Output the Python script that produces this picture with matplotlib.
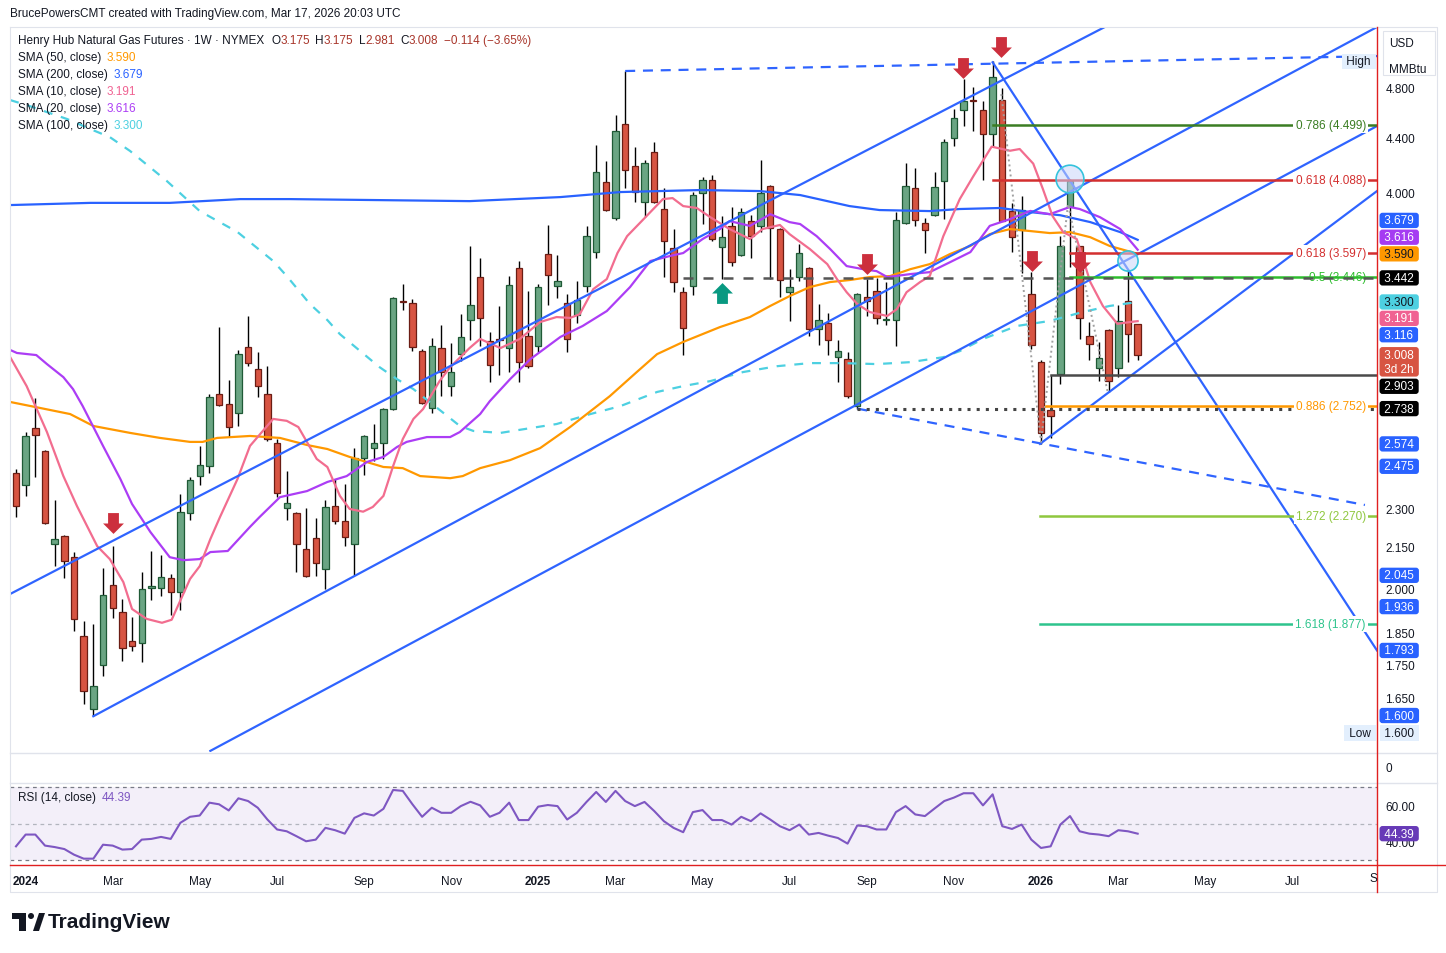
import numpy as np
import pandas as pd
import matplotlib
matplotlib.use("Agg")
import matplotlib.pyplot as plt
from matplotlib.path import Path
from matplotlib.patches import Rectangle, Circle, Polygon
from matplotlib.ticker import FixedLocator, FuncFormatter, NullLocator
from matplotlib.transforms import blended_transform_factory

plt.rcParams['font.family'] = ['Liberation Sans', 'DejaVu Sans']

# -----------------------------
# Data: weekly Henry Hub candles (bar 0 = week of 2023-12-25)
# -----------------------------
opens = [2.446, 2.395, 2.646, 2.542, 2.160, 2.190, 2.110, 1.839, 1.617, 1.749,
         2.011, 1.918, 1.822, 1.818, 2.000, 1.999, 2.035, 1.987, 2.282, 2.433,
         2.476, 2.810, 2.760, 2.717, 3.049, 2.933, 2.810, 2.578, 2.300, 2.282,
         2.143, 2.182, 2.066, 2.308, 2.248, 2.159, 2.510, 2.555, 2.578, 2.735,
         3.305, 3.295, 3.028, 2.740, 3.043, 2.848, 3.012, 3.197, 3.448, 3.083,
         3.090, 3.043, 3.500, 3.108, 3.055, 3.587, 3.393, 3.292, 3.226, 3.393,
         3.600, 4.068, 3.820, 4.510, 4.186, 3.930, 4.290, 3.883, 3.624, 3.360,
         3.396, 3.993, 4.083, 3.636, 3.770, 3.582, 3.800, 3.770, 4.040, 3.749,
         3.357, 3.447, 3.500, 3.147, 3.180, 2.998, 2.986, 2.750, 3.328, 3.363,
         3.195, 3.195, 3.790, 4.026, 3.790, 3.840, 4.080, 4.400, 4.620, 4.695,
         4.620, 4.430, 4.700, 3.870, 3.740, 3.345, 2.970, 2.732, 2.908, 3.894,
         3.637, 3.108, 2.940, 3.143, 2.940, 3.307, 3.175]
highs = [2.463, 2.628, 2.789, 2.546, 2.333, 2.193, 2.130, 1.888, 1.878, 2.070,
         2.152, 1.962, 1.901, 2.057, 2.133, 2.119, 2.050, 2.358, 2.427, 2.565,
         2.807, 3.158, 2.878, 3.034, 3.218, 3.023, 2.950, 2.596, 2.454, 2.286,
         2.300, 2.261, 2.333, 2.420, 2.400, 2.556, 2.615, 2.665, 2.740, 3.330,
         3.405, 3.317, 3.039, 3.096, 3.169, 3.071, 3.230, 3.640, 3.562, 3.131,
         3.277, 3.452, 3.545, 3.363, 3.405, 3.775, 3.582, 3.345, 3.423, 3.770,
         4.340, 4.223, 4.580, 4.944, 4.330, 4.230, 4.370, 4.026, 3.749, 3.387,
         4.000, 4.110, 4.120, 3.835, 3.897, 3.890, 3.840, 4.230, 4.050, 3.755,
         3.495, 3.653, 3.507, 3.288, 3.236, 3.088, 3.023, 3.355, 3.435, 3.441,
         3.417, 3.860, 4.210, 4.170, 3.820, 4.140, 4.390, 4.626, 4.875, 4.810,
         4.690, 5.030, 4.800, 3.925, 3.975, 3.480, 2.980, 2.905, 3.704, 4.092,
         3.637, 3.186, 3.077, 3.147, 3.282, 3.495, 3.175]
lows = [2.265, 2.350, 2.429, 2.237, 2.078, 2.035, 1.855, 1.633, 1.598, 1.716,
        1.898, 1.761, 1.792, 1.758, 1.959, 1.973, 1.908, 1.925, 2.254, 2.395,
        2.446, 2.750, 2.605, 2.656, 2.950, 2.794, 2.587, 2.345, 2.254, 2.057,
        2.040, 2.043, 1.997, 2.238, 2.153, 2.047, 2.437, 2.500, 2.507, 2.729,
        3.253, 3.030, 2.760, 2.717, 2.799, 2.799, 2.977, 3.088, 3.055, 2.867,
        2.905, 2.920, 2.870, 2.938, 3.023, 3.283, 3.321, 3.023, 3.180, 3.360,
        3.562, 3.870, 3.810, 4.026, 3.932, 3.830, 3.925, 3.449, 3.357, 3.008,
        3.340, 3.782, 3.673, 3.435, 3.514, 3.575, 3.563, 3.730, 3.435, 3.328,
        3.192, 3.425, 3.108, 3.060, 3.008, 2.867, 2.789, 2.738, 3.220, 3.176,
        3.170, 3.055, 3.780, 3.770, 3.595, 3.833, 3.815, 4.335, 4.490, 4.450,
        4.085, 4.330, 3.800, 3.600, 3.470, 3.040, 2.574, 2.600, 2.858, 3.506,
        3.093, 2.980, 2.873, 2.819, 2.893, 2.970, 2.981]
closes = [2.309, 2.610, 2.614, 2.241, 2.179, 2.097, 1.895, 1.670, 1.685, 1.976,
          1.931, 1.801, 1.806, 1.996, 2.004, 2.039, 1.987, 2.285, 2.416, 2.481,
          2.793, 2.757, 2.651, 3.012, 2.964, 2.848, 2.596, 2.362, 2.320, 2.159,
          2.043, 2.090, 2.306, 2.250, 2.186, 2.510, 2.610, 2.578, 2.735, 3.321,
          3.300, 3.050, 2.764, 3.055, 2.919, 2.919, 3.102, 3.285, 3.207, 2.954,
          3.085, 3.400, 2.970, 2.950, 3.387, 3.459, 3.424, 3.093, 3.311, 3.704,
          4.146, 3.876, 4.450, 4.157, 4.000, 4.210, 3.930, 3.670, 3.417, 3.153,
          3.980, 4.083, 3.684, 3.696, 3.537, 3.862, 3.703, 3.993, 3.755, 3.429,
          3.387, 3.595, 3.147, 3.197, 3.088, 3.028, 2.799, 3.345, 3.304, 3.207,
          3.205, 3.810, 4.040, 3.810, 3.740, 4.035, 4.370, 4.550, 4.690, 4.690,
          4.430, 4.890, 3.800, 3.696, 3.875, 3.060, 2.624, 2.703, 3.637, 4.077,
          3.210, 3.065, 2.990, 2.875, 3.193, 3.120, 3.008]

rsi = [37.4, 43.9, 43.9, 37.8, 37.0, 35.9, 32.8, 30.6, 30.6, 38.3,
       37.8, 35.6, 35.9, 41.1, 41.5, 42.6, 41.5, 50.4, 53.7, 54.4,
       61.5, 60.6, 57.2, 63.9, 62.4, 58.7, 52.2, 46.7, 45.7, 43.0,
       40.2, 41.1, 47.6, 46.3, 44.4, 53.1, 55.6, 54.4, 58.1, 68.5,
       68.0, 60.6, 53.7, 58.7, 55.9, 55.9, 59.6, 62.0, 60.0, 53.7,
       55.9, 61.5, 51.9, 51.9, 59.3, 60.2, 59.6, 52.2, 55.9, 61.9,
       67.4, 61.9, 68.0, 62.4, 59.6, 61.9, 56.9, 51.3, 47.6, 45.2,
       56.3, 57.4, 51.9, 51.9, 49.4, 53.7, 51.3, 55.6, 52.2, 48.5,
       46.3, 49.4, 43.9, 44.8, 43.3, 42.0, 38.9, 48.9, 48.5, 46.7,
       46.7, 56.3, 59.6, 55.0, 54.1, 58.3, 62.4, 64.3, 66.7, 66.7,
       60.0, 66.1, 48.5, 47.0, 49.4, 41.1, 36.5, 37.4, 49.4, 54.1,
       45.7, 44.4, 43.9, 43.0, 46.3, 45.7, 44.39]

# moving averages (bar position, value)
sma200_x = [-0.6, 7.7, 15.9, 23.2, 28.3, 46.9, 56.3, 62.5, 70.7, 76.9, 81.1,
            86.2, 89.3, 94.5, 97.6, 101.8, 104.9, 108.0, 111.1, 114.2, 116.0]
sma200_y = [3.910, 3.925, 3.925, 3.951, 3.951, 3.937, 3.965, 4.000, 4.014, 4.007, 3.979,
            3.903, 3.876, 3.869, 3.883, 3.890, 3.862, 3.841, 3.795, 3.729, 3.679]

sma50_x = [-0.6, 2.5, 5.6, 8.0, 11.8, 14.9, 18.0, 19.3, 20.8, 24.2, 27.3, 30.1,
           32.2, 34.5, 38.0, 40.0, 41.8, 44.9, 46.2, 48.0, 51.1, 54.2, 57.3, 61.4,
           64.2, 66.3, 69.0, 72.8, 75.9, 78.0, 80.0, 82.1, 84.2, 86.2, 88.3, 90.4,
           92.5, 94.5, 96.6, 98.7, 100.7, 102.8, 104.9, 106.9, 109.0, 111.1, 113.1, 116.0]
sma50_y = [2.770, 2.741, 2.712, 2.656, 2.624, 2.601, 2.583, 2.583, 2.601, 2.610, 2.601, 2.569,
           2.551, 2.516, 2.472, 2.467, 2.433, 2.424, 2.433, 2.467, 2.502, 2.555, 2.651, 2.798,
           2.919, 3.012, 3.077, 3.158, 3.214, 3.277, 3.334, 3.387, 3.417, 3.429, 3.447, 3.453,
           3.495, 3.526, 3.589, 3.640, 3.716, 3.749, 3.736, 3.723, 3.729, 3.696, 3.640, 3.590]

sma20_x = [-0.6, 0.1, 2.1, 3.2, 4.9, 5.9, 6.9, 9.0, 10.8, 12.0, 13.9, 15.9, 17.3,
           19.0, 20.1, 21.9, 24.2, 25.2, 27.3, 30.1, 32.2, 34.2, 36.3, 38.0, 39.4,
           40.4, 42.5, 44.9, 45.9, 48.0, 49.0, 51.1, 53.2, 56.3, 58.6, 61.1, 63.5,
           65.6, 67.6, 69.0, 71.0, 72.8, 73.8, 75.9, 78.0, 80.0, 81.1, 82.8, 84.2,
           85.9, 87.6, 89.0, 90.1, 92.5, 94.5, 96.6, 98.7, 100.7, 102.8, 104.9, 106.9,
           109.0, 110.0, 112.1, 114.2, 116.0]
sma20_y = [3.034, 3.018, 3.007, 2.960, 2.893, 2.833, 2.750, 2.565, 2.420, 2.317, 2.206, 2.111, 2.100,
           2.104, 2.130, 2.134, 2.226, 2.265, 2.345, 2.370, 2.408, 2.433, 2.494, 2.516, 2.560,
           2.583, 2.605, 2.605, 2.628, 2.712, 2.774, 2.883, 2.986, 3.104, 3.164, 3.248, 3.387,
           3.545, 3.576, 3.595, 3.684, 3.749, 3.802, 3.770, 3.848, 3.795, 3.782, 3.703, 3.620,
           3.514, 3.495, 3.483, 3.447, 3.465, 3.477, 3.538, 3.601, 3.770, 3.815, 3.870, 3.848,
           3.897, 3.883, 3.828, 3.749, 3.616]

sma10_x = [-0.6, 1.1, 3.2, 4.9, 6.3, 8.4, 9.7, 11.1, 12.0, 13.5, 15.1, 16.1, 18.0,
           19.0, 20.1, 21.1, 22.9, 24.2, 26.6, 28.0, 29.2, 31.1, 32.2, 33.5, 34.5,
           35.9, 36.9, 38.0, 39.0, 40.0, 41.1, 42.1, 43.8, 44.9, 46.9, 48.0, 50.1,
           52.1, 54.2, 55.9, 57.3, 58.3, 59.7, 61.1, 62.2, 63.2, 64.8, 66.9, 67.9,
           69.0, 70.4, 71.8, 73.8, 75.9, 77.2, 79.0, 80.0, 82.1, 83.9, 84.9, 85.9,
           87.0, 88.3, 90.1, 91.1, 92.1, 93.5, 94.5, 95.9, 97.6, 99.0, 100.9, 102.8,
           103.8, 105.2, 106.2, 107.2, 108.3, 109.7, 111.1, 112.4, 113.9, 115.2, 116.0]
sma10_y = [2.996, 2.848, 2.628, 2.433, 2.309, 2.152, 2.104, 2.021, 1.928, 1.895, 1.882, 1.892, 2.032,
           2.078, 2.179, 2.265, 2.420, 2.565, 2.689, 2.680, 2.651, 2.507, 2.472, 2.350, 2.297,
           2.286, 2.305, 2.350, 2.476, 2.596, 2.689, 2.736, 2.873, 2.944, 3.044, 3.093, 3.044,
           3.093, 3.186, 3.214, 3.209, 3.230, 3.375, 3.435, 3.595, 3.703, 3.808, 3.951, 3.958,
           3.903, 3.890, 3.828, 3.749, 3.684, 3.749, 3.776, 3.716, 3.620, 3.526, 3.435, 3.357,
           3.288, 3.242, 3.220, 3.259, 3.357, 3.417, 3.453, 3.703, 3.951, 4.112, 4.331, 4.300,
           4.313, 4.204, 4.021, 3.835, 3.729, 3.684, 3.417, 3.277, 3.176, 3.186, 3.191]

sma100_x = [-0.6, 1.4, 5.3, 7.7, 9.7, 11.8, 15.6, 19.0, 22.9, 26.6, 28.0, 30.4,
            32.2, 33.5, 35.6, 37.6, 39.4, 41.1, 42.8, 44.6, 45.9, 47.3, 50.1, 53.9,
            55.9, 59.4, 62.5, 66.3, 69.0, 71.8, 75.2, 78.7, 82.1, 85.5, 89.0, 92.5,
            95.9, 97.6, 100.0, 103.5, 106.9, 110.3, 113.1, 116.0]
sma100_y = [4.699, 4.650, 4.545, 4.466, 4.404, 4.298, 4.078, 3.869, 3.730, 3.545, 3.453, 3.288,
            3.197, 3.119, 3.028, 2.944, 2.883, 2.833, 2.769, 2.703, 2.656, 2.633, 2.624, 2.651,
            2.665, 2.712, 2.750, 2.819, 2.848, 2.873, 2.919, 2.949, 2.965, 2.965, 2.960, 2.970,
            2.996, 3.028, 3.093, 3.164, 3.192, 3.242, 3.277, 3.300]

# fibonacci levels: (label, price, first bar, colour)
fib_levels = [("0.786 (4.499)", 4.499, 101.0, "#3b7d23"),
              ("0.618 (4.088)", 4.088, 101.0, "#d32f2f"),
              ("0.618 (3.597)", 3.597, 109.0, "#d32f2f"),
              ("0.5 (3.446)", 3.446, 109.0, "#2dbd2d"),
              ("0.886 (2.752)", 2.752, 106.5, "#ff9800"),
              ("1.272 (2.270)", 2.270, 105.9, "#8fc73e"),
              ("1.618 (1.877)", 1.877, 105.9, "#2ec48d")]

# trend lines: ((bar, price), (bar, price))
trend_solid = [((-0.62, 1.979), (112.6, 5.34)),
               ((8.0, 1.598), (140.75, 5.34)),
               ((20.1, 1.504), (140.75, 4.49)),
               ((105.9, 2.574), (140.75, 4.007)),
               ((101.0, 5.02), (140.75, 1.793))]
trend_dashed = [((63.0, 4.944), (140.75, 5.075)),
                ((87.0, 2.738), (139.5, 2.313))]
path_x = [101.9, 106.0, 108.8, 112.9]
path_y = [4.748, 2.583, 3.917, 2.818]

arrows_down = [(10.0, 2.241), (88.0, 3.526), (97.9, 4.97), (101.9, 5.156),
               (105.1, 3.545), (110.0, 3.537)]
arrows_up = [(73.0, 3.35)]
circles = [(109.0, 4.092, 400), (115.0, 3.545, 210)]

# right scale labels: (text, value, box colour, text colour, shift in pt)
price_boxes = [("3.679", 3.679, "#2962ff", "white", 14),
               ("3.616", 3.616, "#a53cf2", "white", 9),
               ("3.590", 3.590, "#ff9800", "#131722", 0),
               ("3.442", 3.442, "#000000", "white", 0),
               ("3.300", 3.300, "#4dd0e1", "#131722", 0),
               ("3.191", 3.191, "#f06292", "white", 2),
               ("3.116", 3.116, "#2962ff", "white", 0),
               ("3.008\n3d 2h", 3.008, "#d75442", "white", -5),
               ("2.903", 2.903, "#000000", "white", -8),
               ("2.738", 2.738, "#000000", "white", 0),
               ("2.574", 2.574, "#2962ff", "white", 0),
               ("2.475", 2.475, "#2962ff", "white", 0),
               ("2.045", 2.045, "#2962ff", "white", 0),
               ("1.936", 1.936, "#2962ff", "white", 0),
               ("1.793", 1.793, "#2962ff", "white", 0),
               ("1.600", 1.600, "#2962ff", "white", 0)]
price_ticks = [1.65, 1.75, 1.85, 2.0, 2.15, 2.3, 4.0, 4.4, 4.8]

W, H = 1446, 954
FS = 8.5
TXT = "#131722"
GREEN, GREEN_EDGE = "#6aa583", "#1f5a36"
RED, RED_EDGE = "#d75442", "#6b1d14"
XMIN, XMAX = -0.62, 140.75


def frac(x0, y0, x1, y1):
    # pixel box -> figure fraction [left, bottom, width, height]
    return [x0 / W, 1 - y1 / H, (x1 - x0) / W, (y1 - y0) / H]


def arrow_marker(up=False):
    s = -1 if up else 1
    pts = [(-0.26, 0.5 * s), (0.26, 0.5 * s), (0.26, 0.0), (0.5, 0.0),
           (0.0, -0.5 * s), (-0.5, 0.0), (-0.26, 0.0), (-0.26, 0.5 * s)]
    codes = [Path.MOVETO] + [Path.LINETO] * 6 + [Path.CLOSEPOLY]
    return Path(pts, codes)


fig = plt.figure(figsize=(W / 100, H / 100), dpi=100)
fig.patch.set_facecolor("white")

# -----------------------------
# Price pane
# -----------------------------
ax = fig.add_axes(frac(10, 28, 1377, 753))
ax.set_yscale("log")
for s in ax.spines.values():
    s.set_visible(False)

o, h, l, c = map(np.array, (opens, highs, lows, closes))
bars = np.arange(len(c))
up = c >= o
ax.vlines(bars, l, h, color="black", lw=1.0, zorder=2)
bot = np.minimum(o, c)
hgt = np.maximum(np.abs(c - o), 0.006)
ax.bar(bars[up], hgt[up], bottom=bot[up], width=0.66, color=GREEN,
       edgecolor=GREEN_EDGE, lw=0.9, zorder=3)
ax.bar(bars[~up], hgt[~up], bottom=bot[~up], width=0.66, color=RED,
       edgecolor=RED_EDGE, lw=0.9, zorder=3)

ax.plot(sma100_x, sma100_y, color="#4dd0e1", lw=1.6, dashes=(4, 4), zorder=4)
ax.plot(sma50_x, sma50_y, color="#ff9800", lw=1.6, zorder=4)
ax.plot(sma200_x, sma200_y, color="#2962ff", lw=1.6, zorder=4)
ax.plot(sma20_x, sma20_y, color="#ac3df5", lw=1.6, zorder=4)
ax.plot(sma10_x, sma10_y, color="#f26d8f", lw=1.6, zorder=4)

for (x0, y0), (x1, y1) in trend_solid:
    ax.plot([x0, x1], [y0, y1], color="#2f64ff", lw=1.6, zorder=5)
for (x0, y0), (x1, y1) in trend_dashed:
    ax.plot([x0, x1], [y0, y1], color="#2f64ff", lw=1.6, dashes=(4.5, 3.5), zorder=5)
ax.plot(path_x, path_y, color="#a0a0a0", lw=1.4, ls=(0, (1, 1.6)), zorder=5)

# horizontal levels
ax.plot([69.0, XMAX], [3.442, 3.442], color="#555555", lw=1.8, dashes=(4, 4), zorder=6)
ax.plot([107.0, XMAX], [2.903, 2.903], color="#4a4a4a", lw=1.8, zorder=5)
ax.plot([87.0, XMAX], [2.738, 2.738], color="#444444", lw=2.2, ls=(0, (1, 2)), zorder=5)
for lab, val, x0, col in fib_levels:
    ax.plot([x0, XMAX], [val, val], color=col, lw=1.8, zorder=5)
    box = None if lab.startswith("0.5") else dict(fc="white", ec="none", pad=1.5)
    ax.text(139.6, val, lab, color=col, fontsize=FS, ha="right", va="center",
            bbox=box, zorder=5.5)

for x, y, s in circles:
    ax.scatter([x], [y], s=s, facecolor="#c9d6fb", alpha=0.55, edgecolor="none", zorder=6)
    ax.scatter([x], [y], s=s, facecolor="none", edgecolor="#35c3dc", lw=1.2, zorder=6)
ax.scatter([p[0] for p in arrows_down], [p[1] for p in arrows_down],
           marker=arrow_marker(), s=15 ** 2, color="#cc2f3d", zorder=7, lw=0)
ax.scatter([p[0] for p in arrows_up], [p[1] for p in arrows_up],
           marker=arrow_marker(up=True), s=15 ** 2, color="#089981", zorder=7, lw=0)

ax.set_xlim(XMIN, XMAX)
ax.set_ylim(1.501, 5.34)
ax.xaxis.set_major_locator(NullLocator())
ax.yaxis.tick_right()
ax.yaxis.set_major_locator(FixedLocator(price_ticks))
ax.yaxis.set_minor_locator(NullLocator())
ax.yaxis.set_major_formatter(FuncFormatter(lambda v, p: f"{v:.3f}"))
ax.tick_params(axis="y", length=0, pad=6, labelsize=FS, labelcolor=TXT)

tr = blended_transform_factory(ax.transAxes, ax.transData)
for txt, val, fc, tc, dy in price_boxes:
    ax.annotate(" " + txt.replace("\n", " \n ") + " ", xy=(1, val), xycoords=tr,
                xytext=(3, dy), textcoords="offset points", ha="left", va="center",
                color=tc, fontsize=FS, linespacing=1.25, annotation_clip=False, zorder=10,
                bbox=dict(boxstyle="round,pad=0.14,rounding_size=0.25", fc=fc, ec="none"))
ax.annotate(" 1.600 ", xy=(1, 1.6), xycoords=tr, xytext=(3, -12.6), textcoords="offset points",
            ha="left", va="center", color=TXT, fontsize=FS, annotation_clip=False, zorder=10,
            bbox=dict(boxstyle="square,pad=0.14", fc="#e3effd", ec="none"))
ax.annotate(" Low ", xy=(1, 1.6), xycoords=tr, xytext=(-2, -12.6), textcoords="offset points",
            ha="right", va="center", color=TXT, fontsize=FS, annotation_clip=False, zorder=10,
            bbox=dict(boxstyle="square,pad=0.14", fc="#e3effd", ec="none"))
ax.annotate(" High ", xy=(1, 5.03), xycoords=tr, xytext=(-2, 0), textcoords="offset points",
            ha="right", va="center", color=TXT, fontsize=FS, annotation_clip=False, zorder=10,
            bbox=dict(boxstyle="square,pad=0.14", fc="#e3effd", ec="none"))

# -----------------------------
# RSI pane
# -----------------------------
rx = fig.add_axes(frac(10, 785, 1377, 866))
for s in rx.spines.values():
    s.set_visible(False)
rx.axhspan(30, 70, color="#7e57c2", alpha=0.09, lw=0)
rx.axhline(70, color="#787b86", lw=0.9, dashes=(3, 3))
rx.axhline(30, color="#787b86", lw=0.9, dashes=(3, 3))
rx.axhline(50, color="#b2b5be", lw=0.9, dashes=(3, 3))
rx.plot(bars, rsi, color="#7e57c2", lw=1.5)
rx.set_xlim(XMIN, XMAX)
rx.set_ylim(27.1, 71.8)
rx.yaxis.tick_right()
rx.set_yticks([40, 60])
rx.set_yticklabels(["40.00", "60.00"])
rx.tick_params(axis="y", length=0, pad=6, labelsize=FS, labelcolor=TXT)
rtr = blended_transform_factory(rx.transAxes, rx.transData)
rx.annotate(" 44.39 ", xy=(1, 44.39), xycoords=rtr, xytext=(3, 0), textcoords="offset points",
            ha="left", va="center", color="white", fontsize=FS, annotation_clip=False,
            zorder=10, bbox=dict(boxstyle="round,pad=0.14,rounding_size=0.25", fc="#673ab7", ec="none"))

# month labels: first weekly bar of every odd month
dates = pd.date_range("2023-12-25", periods=142, freq="7D")
tick_pos, tick_lab = [], []
for i in range(1, len(dates)):
    d = dates[i]
    if d.month != dates[i - 1].month and d.month % 2 == 1 and i <= XMAX:
        tick_pos.append(i)
        tick_lab.append(str(d.year) if d.month == 1 else d.strftime("%b"))
rx.set_xticks(tick_pos)
rx.set_xticklabels(tick_lab)
rx.tick_params(axis="x", length=0, pad=7, labelsize=FS, labelcolor=TXT)
for t in rx.get_xticklabels():
    if t.get_text().isdigit():
        t.set_fontweight("bold")

# -----------------------------
# Overlay: header, legends, frame, logo (pixel coordinates)
# -----------------------------
ov = fig.add_axes([0, 0, 1, 1], zorder=20)
ov.set_xlim(0, W)
ov.set_ylim(H, 0)
ov.axis("off")
ov.patch.set_alpha(0)

frame = "#e0e3eb"
ov.plot([10, 1437, 1437, 10, 10], [28, 28, 893, 893, 28], color=frame, lw=0.8)
ov.plot([10, 1437], [753.5, 753.5], color=frame, lw=1.0)
ov.plot([10, 1437], [784, 784], color=frame, lw=1.0)
ov.plot([1377, 1377], [28, 893], color="#e02020", lw=1.0)
ov.plot([10, 1446], [866, 866], color="#e02020", lw=1.0)
ov.add_patch(Rectangle((1383, 32), 52, 44, fc="white", ec=frame, lw=0.8))
ov.text(1389, 44, "USD", fontsize=FS, color=TXT, va="center")
ov.text(1389, 70, "MMBtu", fontsize=FS, color=TXT, va="center")
ov.text(1385, 769, "0", fontsize=FS, color=TXT, va="center")
ov.text(1370, 879, "S", fontsize=FS, color=TXT, va="center")

ov.text(10, 14, "BrucePowersCMT created with TradingView.com, Mar 17, 2026 20:03 UTC",
        fontsize=FS, color=TXT, va="center")


def chain(x, y, parts):
    prev = ov.text(x, y, parts[0][0], color=parts[0][1], fontsize=FS, va="center")
    for txt, col, gap in parts[1:]:
        prev = ov.annotate(txt, xy=(1, 0.5), xycoords=prev, xytext=(gap, 0),
                           textcoords="offset points", color=col, fontsize=FS,
                           va="center", ha="left")


VAL = "#a8352a"
chain(18, 41, [("Henry Hub Natural Gas Futures · 1W · NYMEX", TXT, 0),
               ("O", TXT, 5), ("3.175", VAL, 0), ("H", TXT, 4), ("3.175", VAL, 0),
               ("L", TXT, 4), ("2.981", VAL, 0), ("C", TXT, 4), ("3.008", VAL, 0),
               ("−0.114 (−3.65%)", VAL, 4)])
legend = [("SMA (50, close)", "3.590", "#ff9800"),
          ("SMA (200, close)", "3.679", "#2962ff"),
          ("SMA (10, close)", "3.191", "#f06292"),
          ("SMA (20, close)", "3.616", "#ac3df5"),
          ("SMA (100, close)", "3.300", "#4dd0e1")]
for k, (name, val, col) in enumerate(legend):
    chain(18, 58 + 17 * k, [(name, TXT, 0), (val, col, 4)])
chain(18, 798, [("RSI (14, close)", TXT, 0), ("44.39", "#7e57c2", 4)])

# TradingView logo
ov.add_patch(Rectangle((12, 914), 14, 6, fc="#131722", ec="none"))
ov.add_patch(Rectangle((19, 914), 7, 18, fc="#131722", ec="none"))
ov.add_patch(Circle((31, 917), 3, fc="#131722", ec="none"))
ov.add_patch(Polygon([(33, 932), (39, 914), (45, 914), (39, 932)], closed=True, fc="#131722", ec="none"))
ov.text(48, 923, "TradingView", fontsize=15, fontweight="bold", color="#131722", va="center")

fig.savefig("out.png", dpi=100, facecolor="white")
